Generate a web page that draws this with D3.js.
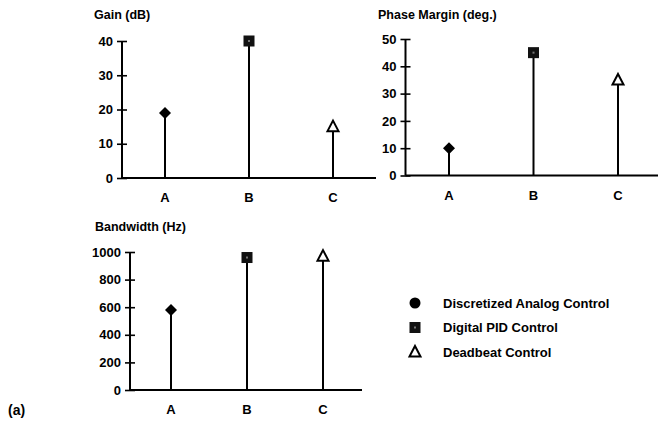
<!DOCTYPE html>
<html><head><meta charset="utf-8">
<script src="https://cdn.jsdelivr.net/npm/d3@7"></script>
<style>
body{margin:0;background:#fff;}
svg text{font-family:"Liberation Sans",Arial,sans-serif;font-weight:bold;fill:#000;}
</style></head>
<body><svg id="c" width="662" height="431"></svg>
<script>
const categories = ["A","B","C"];
const markerTypes = ["diamond","square","triangle"];
const gainValues = [19, 40, 15];
const phaseValues = [10, 45, 35];
const bandwidthValues = [580, 960, 970];
const gainTicks = [0,10,20,30,40];
const phaseTicks = [0,10,20,30,40,50];
const bandwidthTicks = [0,200,400,600,800,1000];
const legendLabels = ["Discretized Analog Control","Digital PID Control","Deadbeat Control"];
const legendSymbols = ["circle","square","triangle"];

const svg = d3.select("#c");

function panel(cfg){
  const g = svg.append("g");
  const y = d3.scaleLinear().domain([0, cfg.max]).range([cfg.y0, cfg.yTop]);
  const x = d3.scalePoint().domain(categories).range([cfg.xA, cfg.xC]);
  g.append("text").attr("x", cfg.titleX).attr("y", cfg.titleY)
    .attr("font-size", 12.5).text(cfg.title);
  const ax = g.append("g").attr("transform", `translate(${cfg.axisX},0)`)
    .call(d3.axisLeft(y).tickValues(cfg.ticks).tickSize(5).tickPadding(6).tickFormat(d3.format("d")));
  ax.select(".domain").attr("stroke","#000").attr("stroke-width",2)
    .attr("d", `M0,${cfg.y0}V${cfg.yTop}`);
  ax.selectAll(".tick line").attr("x1",-5).attr("x2",5).attr("stroke","#000").attr("stroke-width",1.6);
  ax.selectAll(".tick text").attr("font-size",13).attr("font-family","Liberation Sans, Arial, sans-serif").attr("font-weight","bold").attr("x",-9);
  g.append("line").attr("x1", cfg.axisX).attr("x2", cfg.xEnd)
    .attr("y1", cfg.y0).attr("y2", cfg.y0).attr("stroke","#000").attr("stroke-width",2);
  g.selectAll(".xl").data(categories).enter().append("text")
    .attr("x", d=>x(d)).attr("y", cfg.y0 + 24).attr("text-anchor","middle")
    .attr("font-size",13).text(d=>d);
  g.selectAll(".stem").data(cfg.values).enter().append("line")
    .attr("x1",(d,i)=>x(categories[i])).attr("x2",(d,i)=>x(categories[i]))
    .attr("y1", y(0)).attr("y2", d=>y(d)).attr("stroke","#000").attr("stroke-width",2);
  cfg.values.forEach((v,i)=>{
    drawMarker(g, markerTypes[i], x(categories[i]), y(v));
  });
}

function drawMarker(g, type, cx, cy){
  if(type==="diamond"){
    g.append("path").attr("d", `M${cx},${cy-6}L${cx+6},${cy}L${cx},${cy+6}L${cx-6},${cy}Z`)
      .attr("fill","#000");
  } else if(type==="square"){
    g.append("rect").attr("x",cx-5.5).attr("y",cy-5.5).attr("width",11).attr("height",11)
      .attr("fill","#111");
    g.append("rect").attr("x",cx-1).attr("y",cy-1).attr("width",2).attr("height",2).attr("fill","#777");
  } else if(type==="triangle"){
    g.append("path").attr("d", `M${cx},${cy-6}L${cx+5.5},${cy+4.5}L${cx-5.5},${cy+4.5}Z`)
      .attr("fill","#fff").attr("stroke","#000").attr("stroke-width",2);
  } else if(type==="circle"){
    g.append("circle").attr("cx",cx).attr("cy",cy).attr("r",5.5).attr("fill","#000");
  }
}

panel({title:"Gain (dB)", titleX:94, titleY:19, values:gainValues, ticks:gainTicks, max:40,
  y0:178, yTop:41, axisX:122, xA:165, xC:333, xEnd:376});
panel({title:"Phase Margin (deg.)", titleX:378, titleY:19, values:phaseValues, ticks:phaseTicks, max:50,
  y0:175.5, yTop:39, axisX:405.5, xA:449, xC:618, xEnd:658});
panel({title:"Bandwidth (Hz)", titleX:95, titleY:231, values:bandwidthValues, ticks:bandwidthTicks, max:1000,
  y0:390, yTop:252, axisX:130, xA:171, xC:323, xEnd:362});

const lg = svg.append("g");
legendLabels.forEach((lab,i)=>{
  const cy = 303 + i*24.5;
  drawMarker(lg, legendSymbols[i], 415, cy);
  lg.append("text").attr("x",443).attr("y",cy+4.5).attr("font-size",13).text(lab);
});

svg.append("text").attr("x",8).attr("y",415).attr("font-size",14).text("(a)");
</script></body></html>
